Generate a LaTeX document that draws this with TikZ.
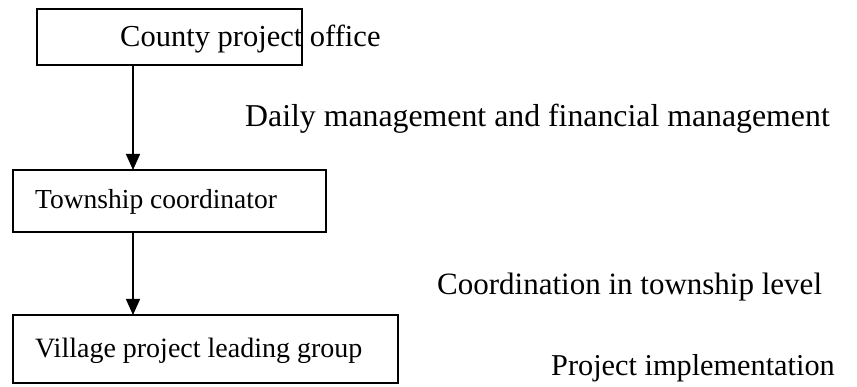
\documentclass[tikz,border=0pt]{standalone}
\usepackage{fontspec}
\setmainfont{Liberation Serif}
\usetikzlibrary{arrows.meta}
\begin{document}
\begin{tikzpicture}[x=1pt,y=-1pt,
  box/.style={draw,line width=1.4pt,inner sep=0pt,outer sep=0pt},
  lbl/.style={anchor=base west,inner sep=0pt,font=\fontsize{28}{30}\selectfont},
  rlbl/.style={anchor=base west,inner sep=0pt,font=\fontsize{31}{33}\selectfont},
  arr/.style={-{Triangle[width=14pt,length=16pt]},line width=1.4pt}]
\useasboundingbox (0,0) rectangle (857,387);
\node[box,minimum width=265pt,minimum height=56pt] (county) at (169.5,37) {};
\node[box,minimum width=313pt,minimum height=62pt] (township) at (169.5,201) {};
\node[box,minimum width=385pt,minimum height=68pt] (village) at (205.5,349) {};
\node[lbl,font=\fontsize{30.5}{32}\selectfont] (countyt) at (120,47) {County project office};
\node[lbl,font=\fontsize{27.5}{29}\selectfont] (townshipt) at (35,209) {Township coordinator};
\node[lbl] (villaget) at (35,357) {Village project leading group};
\node[rlbl,font=\fontsize{31.8}{33}\selectfont] (daily) at (245,127) {Daily management and financial management};
\node[rlbl] (coord) at (437,295) {Coordination in township level};
\node[rlbl,font=\fontsize{30.3}{32}\selectfont] (impl) at (551,376) {Project implementation};
\draw[arr] ([xshift=96pt]county.south west) -- ([xshift=96pt]county.south west |- township.north);
\draw[arr] ([xshift=120pt]township.south west) -- ([xshift=120pt]township.south west |- village.north);
\end{tikzpicture}
\end{document}
